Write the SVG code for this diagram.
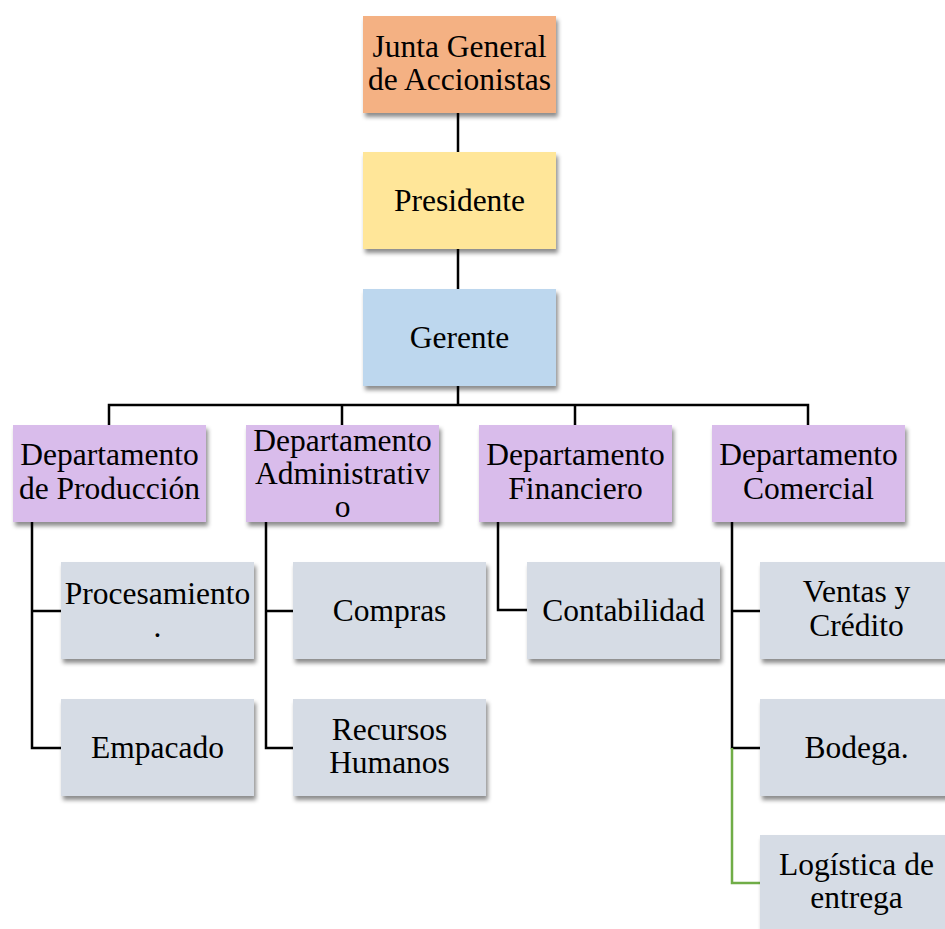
<svg xmlns="http://www.w3.org/2000/svg" width="945" height="929" viewBox="0 0 945 929">
<defs>
<filter id="sh" x="-10%" y="-10%" width="125%" height="130%">
<feDropShadow dx="2" dy="4" stdDeviation="2.2" flood-color="#000" flood-opacity="0.45"/>
</filter>
</defs>
<style>
.b{filter:url(#sh)}
.t{font-family:"Liberation Serif","Times New Roman",serif;font-size:31.5px;fill:#000;text-anchor:middle}
.c{fill:none;stroke:#000;stroke-width:2.5}
.g{fill:none;stroke:#70AD47;stroke-width:2.5}
.or{fill:#F4B183}.ye{fill:#FFE699}.bl{fill:#BDD7EE}.pu{fill:#D9BCEB}.gr{fill:#D6DCE5}
</style>
<rect width="945" height="929" fill="#fff"/>
<g id="connectors">
<path class="c" d="M458 113V152M458 249V289M458 386V405M109 425V405H808V425M342 405V425M575 405V425"/>
<path class="c" d="M32 522V748H61M32 611H61"/>
<path class="c" d="M266 522V748H293M266 611H293"/>
<path class="c" d="M498 522V610H527"/>
<path class="c" d="M732 522V748H760M732 611H760"/>
<path class="g" d="M732 748V883H760"/>
</g>
<g id="junta"><rect class="b or" x="363" y="16" width="193" height="97"/><text class="t" x="459.5" y="57">Junta General</text><text class="t" x="459.5" y="90">de Accionistas</text></g>
<g id="presidente"><rect class="b ye" x="363" y="152" width="193" height="97"/><text class="t" x="459.5" y="211">Presidente</text></g>
<g id="gerente"><rect class="b bl" x="363" y="289" width="193" height="97"/><text class="t" x="459.5" y="348">Gerente</text></g>
<g id="dep-produccion"><rect class="b pu" x="13" y="425" width="193" height="97"/><text class="t" x="109.5" y="465">Departamento</text><text class="t" x="109.5" y="499">de Producción</text></g>
<g id="dep-administrativo"><rect class="b pu" x="246" y="425" width="193" height="97"/><text class="t" x="342.5" y="451">Departamento</text><text class="t" x="342.5" y="484">Administrativ</text><text class="t" x="342.5" y="517">o</text></g>
<g id="dep-financiero"><rect class="b pu" x="479" y="425" width="193" height="97"/><text class="t" x="575.5" y="465">Departamento</text><text class="t" x="575.5" y="499">Financiero</text></g>
<g id="dep-comercial"><rect class="b pu" x="712" y="425" width="193" height="97"/><text class="t" x="808.5" y="465">Departamento</text><text class="t" x="808.5" y="499">Comercial</text></g>
<g id="procesamiento"><rect class="b gr" x="61" y="562" width="193" height="97"/><text class="t" x="157.5" y="604">Procesamiento</text><text class="t" x="157.5" y="637">.</text></g>
<g id="empacado"><rect class="b gr" x="61" y="699" width="193" height="97"/><text class="t" x="157.5" y="758">Empacado</text></g>
<g id="compras"><rect class="b gr" x="293" y="562" width="193" height="97"/><text class="t" x="389.5" y="621">Compras</text></g>
<g id="recursos-humanos"><rect class="b gr" x="293" y="699" width="193" height="97"/><text class="t" x="389.5" y="740">Recursos</text><text class="t" x="389.5" y="773">Humanos</text></g>
<g id="contabilidad"><rect class="b gr" x="527" y="562" width="193" height="97"/><text class="t" x="623.5" y="621">Contabilidad</text></g>
<g id="ventas-credito"><rect class="b gr" x="760" y="562" width="193" height="97"/><text class="t" x="856.5" y="602">Ventas y</text><text class="t" x="856.5" y="636">Crédito</text></g>
<g id="bodega"><rect class="b gr" x="760" y="699" width="193" height="97"/><text class="t" x="856.5" y="758">Bodega.</text></g>
<g id="logistica"><rect class="b gr" x="760" y="835" width="193" height="97"/><text class="t" x="856.5" y="875">Logística de</text><text class="t" x="856.5" y="908">entrega</text></g>
</svg>
